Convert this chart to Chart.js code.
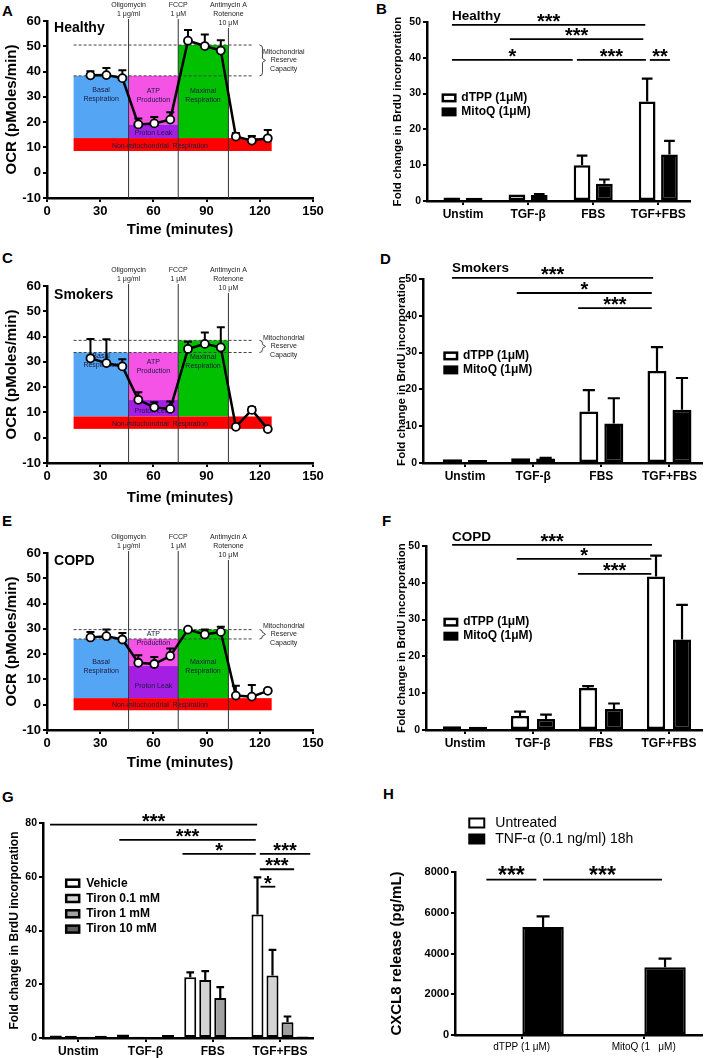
<!DOCTYPE html>
<html>
<head>
<meta charset="utf-8">
<title>Mitochondrial respiration and proliferation</title>
<script src="https://cdn.jsdelivr.net/npm/chart.js@4.4.1/dist/chart.umd.min.js"></script>
<style>
  html, body { margin: 0; padding: 0; background: #fff; }
  #fig { position: relative; width: 705px; height: 1058px; overflow: hidden; font-family: Arial, 'Liberation Sans', sans-serif; }
  #fig canvas { position: absolute; }
  .tag { position: absolute; font: bold 15px Arial, 'Liberation Sans', sans-serif; line-height: 1; }
</style>
</head>
<body>
<div id="fig">
  <div class="tag" style="left:2px;top:3px">A</div>
  <div class="tag" style="left:376px;top:1px">B</div>
  <div class="tag" style="left:2px;top:250px">C</div>
  <div class="tag" style="left:380px;top:251px">D</div>
  <div class="tag" style="left:2px;top:513px">E</div>
  <div class="tag" style="left:382px;top:513px">F</div>
  <div class="tag" style="left:2px;top:789px">G</div>
  <div class="tag" style="left:383px;top:786px">H</div>
</div>
<script>
// ---- OCR traces, mean + upper SEM (pMoles/min) ----
const ocrTimes = [24.5, 33.5, 42.5, 51.5, 60.5, 69.5, 79.5, 89, 98, 106.5, 115.5, 124.5];
const healthyOcr = [38.5, 38.6, 37.4, 19.1, 19.5, 21.0, 52.2, 50.1, 48.3, 14.3, 12.7, 13.6];
const healthySem = [1.6, 2.8, 3.1, 2.3, 2.5, 2.9, 4.2, 4.6, 4.1, 1.4, 1.8, 3.3];
const smokersOcr = [31.4, 29.5, 28.2, 15.0, 12.0, 11.4, 35.1, 37.1, 35.7, 4.3, 11.0, 3.4];
const smokersSem = [7.6, 9.4, 2.8, 3.0, 2.0, 2.9, 2.9, 4.5, 8.0, 0, 1.1, 0];
const copdOcr = [26.6, 27.1, 25.8, 16.6, 16.1, 19.3, 29.7, 27.8, 28.8, 3.6, 3.2, 5.5];
const copdSem = [2.2, 2.6, 2.6, 3.0, 2.8, 2.9, 0, 1.9, 2.0, 3.9, 4.6, 0];

// injections and assay window (minutes)
const injectTimes = [46, 74, 102.3];
const assayWindow = [15, 126.7];
const drugLabels = [['Oligomycin', '1 μg/ml'], ['FCCP', '1 μM'], ['Antimycin A', 'Rotenone', '10 μM']];
const regionNames = ['Basal\nRespiration', 'ATP\nProduction', 'Proton Leak', 'Maximal\nRespiration', 'Non-mitochondrial  Respiration'];

// levels: non-mito bottom, non-mito top, proton leak top, basal, maximal
const healthyLevels = [8.6, 13.7, 19.1, 38.3, 50.5];
const smokersLevels = [3.5, 8.4, 14.9, 33.7, 38.5];
const copdLevels = [-2.2, 2.6, 15.3, 26.0, 29.7];

// ---- BrdU fold change ----
const brduCats = ['Unstim', 'TGF-β', 'FBS', 'TGF+FBS'];
const healthyDtpp = [1.0, 1.8, 10.0, 27.8];
const healthyDtppSem = [0, 0, 2.7, 6.4];
const healthyMitoq = [0.9, 1.7, 4.8, 13.0];
const healthyMitoqSem = [0, 0.2, 1.2, 3.8];
const smokersDtpp = [1.0, 1.3, 14.0, 25.0];
const smokersDtppSem = [0, 0, 5.8, 6.5];
const smokersMitoq = [0.8, 1.2, 10.7, 14.5];
const smokersMitoqSem = [0, 0.2, 6.9, 8.6];
const copdDtpp = [1.0, 3.8, 11.4, 41.7];
const copdDtppSem = [0, 1.2, 0.5, 5.7];
const copdMitoq = [0.9, 3.0, 5.7, 24.6];
const copdMitoqSem = [0, 1.2, 1.5, 9.4];

const tironVehicle = [0.9, 1.3, 22.6, 46.0];
const tironVehicleSem = [0, 0, 1.8, 13.8];
const tiron01 = [0.8, 0.5, 21.6, 23.3];
const tiron01Sem = [0, 0, 3.3, 9.5];
const tiron1 = [0.5, 0.3, 14.9, 5.9];
const tiron1Sem = [0, 0, 4.0, 2.1];
const tiron10 = [0.8, 1.1, 0.3, 0.6];
const tiron10Sem = [0, 0, 0, 0];

// ---- CXCL8 release (pg/mL) ----
const cxclCats = ['dTPP (1 μM)', 'MitoQ (1   μM)'];
const cxclUntreated = [50, 20];
const cxclTnf = [5300, 3330];
const cxclTnfSem = [520, 420];

Chart.defaults.font.family = "Arial, 'Liberation Sans', sans-serif";
Chart.defaults.color = '#000';
Chart.defaults.animation = false;
Chart.defaults.responsive = false;
Chart.defaults.plugins.legend.display = false;
Chart.defaults.plugins.tooltip.enabled = false;

const fig = document.getElementById('fig');

function addCanvas(box) {
  const c = document.createElement('canvas');
  c.width = box[2];
  c.height = box[3];
  c.style.left = box[0] + 'px';
  c.style.top = box[1] + 'px';
  c.style.width = box[2] + 'px';
  c.style.height = box[3] + 'px';
  fig.appendChild(c);
  return c;
}

// box: [left, top, w, h] of canvas, plot: [left, top, right, bottom] on page
function frame(box, plot, yTitle, xTitle) {
  const axisLeft = yTitle[0] - yTitle[1] * 0.6;
  const yWidth = plot[0] - axisLeft;
  const xHeight = xTitle ? xTitle[0] + xTitle[1] * 0.6 - plot[3] : box[1] + box[3] - plot[3];
  return {
    padding: {
      left: axisLeft - box[0],
      top: plot[1] - box[1],
      right: box[0] + box[2] - plot[2],
      bottom: box[1] + box[3] - plot[3] - xHeight
    },
    yFit: s => { s.width = yWidth; },
    xFit: s => { s.height = xHeight; }
  };
}

function axis(fit, min, max, step, tickFont, title, titleSize) {
  return {
    type: 'linear',
    min: min,
    max: max,
    afterFit: fit,
    border: { display: true, color: '#000', width: 2.5 },
    grid: { display: true, drawOnChartArea: false, drawTicks: true, tickLength: 4, color: '#000', lineWidth: 2 },
    ticks: { stepSize: step, font: tickFont, padding: 2, color: '#000', maxRotation: 0, autoSkip: false, callback: v => String(v) },
    title: { display: !!title, text: title, padding: 0, color: '#000', font: { size: titleSize, weight: 'bold' } }
  };
}

function ocrDecor(means, sems, levels, cohort, spots) {
  return {
    id: 'ocrDecor',
    beforeDatasetsDraw(chart) {
      const ctx = chart.ctx;
      const X = v => chart.scales.x.getPixelForValue(v);
      const Y = v => chart.scales.y.getPixelForValue(v);
      const [t0, t1] = assayWindow;
      const [o, f, a] = injectTimes;
      const [nb, nt, lt, basal, maximal] = levels;
      const block = (x0, x1, y0, y1, col) => {
        ctx.fillStyle = col;
        ctx.fillRect(X(x0), Y(y1), X(x1) - X(x0), Y(y0) - Y(y1));
      };
      ctx.save();
      block(t0, o, nt, basal, '#55a5f5');
      block(o, f, lt, basal, '#f552e6');
      block(o, f, nt, lt, '#a41fe3');
      block(f, a, nt, maximal, '#00c000');
      block(t0, t1, nb, nt, '#ff0000');

      // reserve capacity guides
      ctx.strokeStyle = '#444';
      ctx.lineWidth = 1;
      ctx.setLineDash([3, 2]);
      [basal, maximal].forEach(v => {
        ctx.beginPath();
        ctx.moveTo(X(t0), Y(v));
        ctx.lineTo(X(116.5), Y(v));
        ctx.stroke();
      });
      ctx.setLineDash([]);
      const bx = X(121.5), yt = Y(maximal), yb = Y(basal), ym = (yt + yb) / 2;
      ctx.beginPath();
      ctx.moveTo(bx - 3, yt);
      ctx.quadraticCurveTo(bx, yt, bx, yt + 3);
      ctx.lineTo(bx, ym - 2);
      ctx.lineTo(bx + 3, ym);
      ctx.lineTo(bx, ym + 2);
      ctx.lineTo(bx, yb - 3);
      ctx.quadraticCurveTo(bx, yb, bx - 3, yb);
      ctx.stroke();
      ctx.fillStyle = '#222';
      ctx.font = '7px Arial';
      ctx.textAlign = 'center';
      ctx.textBaseline = 'middle';
      ['Mitochondrial', 'Reserve', 'Capacity'].forEach((s, k) => ctx.fillText(s, X(133.5), ym + (k - 1) * 8.5));

      // region names
      ctx.fillStyle = '#1a1a40';
      regionNames.forEach((name, i) => {
        const rows = name.split('\n');
        rows.forEach((s, k) => ctx.fillText(s, X(spots[i][0]), Y(spots[i][1]) + (k - (rows.length - 1) / 2) * 9));
      });

      // injections
      const top = Y(60);
      ctx.fillStyle = '#222';
      injectTimes.forEach((t, i) => {
        const rows = drugLabels[i];
        rows.forEach((s, k) => ctx.fillText(s, X(t), top - 16 + k * 9));
        ctx.strokeStyle = '#333';
        ctx.lineWidth = 1;
        ctx.beginPath();
        ctx.moveTo(X(t), top - 16 + (rows.length - 1) * 9 + 5);
        ctx.lineTo(X(t), Y(-10));
        ctx.stroke();
      });

      // upper error bars
      ctx.strokeStyle = '#000';
      ctx.lineWidth = 2;
      ocrTimes.forEach((t, i) => {
        if (!sems[i]) return;
        const px = X(t), y1 = Y(means[i] + sems[i]);
        ctx.beginPath();
        ctx.moveTo(px, Y(means[i]));
        ctx.lineTo(px, y1);
        ctx.moveTo(px - 4, y1);
        ctx.lineTo(px + 4, y1);
        ctx.stroke();
      });

      ctx.fillStyle = '#000';
      ctx.font = 'bold 14px Arial';
      ctx.textAlign = 'left';
      ctx.fillText(cohort[0], X(cohort[1]), Y(cohort[2]));
      ctx.restore();
    }
  };
}

function ocrPanel(box, plot, xTitleY, means, sems, levels, cohort, spots) {
  const fr = frame(box, plot, [12, 15], [xTitleY, 15]);
  new Chart(addCanvas(box), {
    type: 'line',
    data: {
      datasets: [{
        data: ocrTimes.map((t, i) => ({ x: t, y: means[i] })),
        borderColor: '#000',
        borderWidth: 2.5,
        pointRadius: 4,
        pointBorderWidth: 1.8,
        pointBackgroundColor: '#fff',
        pointBorderColor: '#000',
        tension: 0
      }]
    },
    options: {
      layout: { padding: fr.padding },
      scales: {
        x: axis(fr.xFit, 0, 150, 30, { size: 13, weight: 'bold' }, 'Time (minutes)', 15),
        y: axis(fr.yFit, -10, 60, 10, { size: 13, weight: 'bold' }, 'OCR (pMoles/min)', 15)
      }
    },
    plugins: [ocrDecor(means, sems, levels, cohort, spots)]
  });
}

function barDecor(cfg) {
  return {
    id: 'barDecor',
    afterDatasetsDraw(chart) {
      const ctx = chart.ctx;
      const X = v => chart.scales.x.getPixelForValue(v);
      const Y = v => chart.scales.y.getPixelForValue(v);
      ctx.save();
      ctx.strokeStyle = '#000';
      ctx.fillStyle = '#000';

      chart.data.datasets.forEach((ds, di) => {
        chart.getDatasetMeta(di).data.forEach((bar, i) => {
          const e = ds.sem[i];
          if (!e) return;
          const top = Y(ds.data[i].y + e);
          const half = Math.min(6.5, bar.width * 0.32);
          ctx.lineWidth = 2.2;
          ctx.beginPath();
          ctx.moveTo(bar.x, bar.y);
          ctx.lineTo(bar.x, top);
          ctx.moveTo(bar.x - half, top);
          ctx.lineTo(bar.x + half, top);
          ctx.stroke();
        });
      });

      ctx.lineWidth = 1.8;
      ctx.textAlign = 'center';
      ctx.textBaseline = 'alphabetic';
      ctx.font = 'bold ' + cfg.starSize + 'px Arial';
      cfg.brackets.forEach(([a, b, v, s]) => {
        const y = Y(v);
        ctx.beginPath();
        ctx.moveTo(X(a), y);
        ctx.lineTo(X(b), y);
        ctx.stroke();
        ctx.fillText(s, (X(a) + X(b)) / 2, y + cfg.starSize * 0.15);
      });

      if (cfg.cohort) {
        ctx.font = 'bold 13.5px Arial';
        ctx.textAlign = 'left';
        ctx.textBaseline = 'middle';
        ctx.fillText(cfg.cohort[0], X(cfg.cohort[1]), Y(cfg.cohort[2]));
      }

      const lg = cfg.legend;
      ctx.font = lg.font;
      ctx.textAlign = 'left';
      ctx.textBaseline = 'middle';
      cfg.series.forEach((s, k) => {
        const x0 = X(lg.at[0]), yc = Y(lg.at[1]) + k * lg.step;
        ctx.fillStyle = s.fill;
        ctx.fillRect(x0, yc - lg.box[1] / 2, lg.box[0], lg.box[1]);
        ctx.lineWidth = lg.line;
        ctx.strokeRect(x0, yc - lg.box[1] / 2, lg.box[0], lg.box[1]);
        ctx.fillStyle = '#000';
        ctx.fillText(s.name, x0 + lg.box[0] + lg.gap, yc);
      });
      ctx.restore();
    }
  };
}

function barPanel(box, plot, yTitleX, cfg) {
  const fr = frame(box, plot, [yTitleX, cfg.titleSize], null);
  const xs = axis(fr.xFit, cfg.xRange[0], cfg.xRange[1], 1, cfg.catFont, '', 0);
  xs.offset = false;
  xs.grid.offset = false;
  xs.ticks.includeBounds = false;
  xs.ticks.callback = v => cfg.cats[v];
  const ys = axis(fr.yFit, 0, cfg.yMax, cfg.yStep, cfg.tickFont, cfg.yTitle, cfg.titleSize);
  new Chart(addCanvas(box), {
    type: 'bar',
    data: {
      datasets: cfg.series.map(s => ({
        data: s.values.map((v, i) => ({ x: i, y: v })),
        sem: s.sem,
        backgroundColor: s.fill,
        borderColor: '#000',
        borderWidth: cfg.barBorder,
        borderSkipped: false,
        categoryPercentage: cfg.cp,
        barPercentage: cfg.bp
      }))
    },
    options: {
      layout: { padding: fr.padding },
      scales: { x: xs, y: ys }
    },
    plugins: [barDecor(cfg)]
  });
}

// ---- A, C, E ----
ocrPanel([0, 0, 350, 255], [47, 21, 313, 198], 230, healthyOcr, healthySem, healthyLevels,
  ['Healthy', 4, 57.2], [[30.5, 30.75], [60, 30.7], [60, 15.6], [88, 30.7], [63.7, 10.6]]);
ocrPanel([0, 262, 350, 255], [47, 286, 313, 463], 498, smokersOcr, smokersSem, smokersLevels,
  ['Smokers', 4, 56.4], [[30.5, 30.5], [60, 28], [60, 10.7], [88, 30.1], [63.7, 5.4]]);
ocrPanel([0, 527, 350, 258], [47, 553, 313, 730], 763, copdOcr, copdSem, copdLevels,
  ['COPD', 4, 56.8], [[30.5, 15], [60, 26.2], [60, 7.4], [88, 15], [63.7, -0.1]]);

// ---- B, D, F ----
const brduBase = {
  cats: brduCats, yMax: 50, yStep: 10, titleSize: 11.5,
  yTitle: 'Fold change in BrdU incorporation',
  tickFont: { size: 10.5, weight: 'bold' }, catFont: { size: 12, weight: 'bold' },
  barBorder: 2.5, starSize: 20
};
const brduLegend = { box: [12.5, 6.5], line: 2.5, gap: 6, step: 14, font: 'bold 12px Arial' };

barPanel([350, 0, 355, 232], [427, 22, 690, 201], 398, Object.assign({}, brduBase, {
  xRange: [-0.553, 3.487], cp: 0.685, bp: 0.75,
  series: [
    { name: 'dTPP (1μM)', values: healthyDtpp, sem: healthyDtppSem, fill: '#fff' },
    { name: 'MitoQ (1μM)', values: healthyMitoq, sem: healthyMitoqSem, fill: '#000' }
  ],
  brackets: [[-0.17, 2.8, 49.2, '***'], [0.72, 2.77, 45.2, '***'], [-0.17, 1.685, 39.4, '*'],
    [1.75, 2.81, 39.4, '***'], [2.87, 3.18, 39.4, '**']],
  cohort: ['Healthy', -0.17, 51.7],
  legend: Object.assign({ at: [-0.31, 28.8] }, brduLegend)
}));

barPanel([350, 262, 355, 232], [423, 279, 702, 463], 401.7, Object.assign({}, brduBase, {
  xRange: [-0.616, 3.477], cp: 0.733, bp: 0.76,
  series: [
    { name: 'dTPP (1μM)', values: smokersDtpp, sem: smokersDtppSem, fill: '#fff' },
    { name: 'MitoQ (1μM)', values: smokersMitoq, sem: smokersMitoqSem, fill: '#000' }
  ],
  brackets: [[-0.19, 2.76, 50.3, '***'], [0.76, 2.74, 46.2, '*'], [1.66, 2.74, 42.1, '***']],
  cohort: ['Smokers', -0.19, 53],
  legend: Object.assign({ at: [-0.3, 29.1] }, brduLegend)
}));

barPanel([350, 527, 355, 232], [426, 546, 702, 730], 401.7, Object.assign({}, brduBase, {
  xRange: [-0.574, 3.485], cp: 0.765, bp: 0.7,
  series: [
    { name: 'dTPP (1μM)', values: copdDtpp, sem: copdDtppSem, fill: '#fff' },
    { name: 'MitoQ (1μM)', values: copdMitoq, sem: copdMitoqSem, fill: '#000' }
  ],
  brackets: [[-0.19, 2.75, 50.3, '***'], [0.76, 2.74, 46.5, '*'], [1.66, 2.74, 42.4, '***']],
  cohort: ['COPD', -0.19, 52.4],
  legend: Object.assign({ at: [-0.3, 29.3] }, brduLegend)
}));

// ---- G ----
barPanel([0, 788, 350, 270], [43, 823, 313, 1038], 15, Object.assign({}, brduBase, {
  yMax: 80, yStep: 20, titleSize: 12,
  xRange: [-0.525, 3.491], cp: 0.893, bp: 0.8, barBorder: 2,
  series: [
    { name: 'Vehicle', values: tironVehicle, sem: tironVehicleSem, fill: '#fff' },
    { name: 'Tiron 0.1 mM', values: tiron01, sem: tiron01Sem, fill: '#d4d4d4' },
    { name: 'Tiron 1 mM', values: tiron1, sem: tiron1Sem, fill: '#a0a0a0' },
    { name: 'Tiron 10 mM', values: tiron10, sem: tiron10Sem, fill: '#606060' }
  ],
  brackets: [[-0.42, 2.66, 79.4, '***'], [0.61, 2.64, 73.7, '***'], [1.55, 2.64, 68.5, '*'],
    [2.70, 3.45, 68.5, '***'], [2.70, 3.21, 62.8, '***'], [2.71, 2.93, 56.3, '*']],
  cohort: null,
  legend: { at: [-0.18, 57.6], box: [13, 7], line: 2.5, gap: 7, step: 15.3, font: 'bold 12px Arial' }
}));

// ---- H ----
barPanel([350, 800, 355, 258], [455, 872, 702, 1035], 397, {
  cats: cxclCats, yMax: 8000, yStep: 2000, titleSize: 15,
  yTitle: 'CXCL8 release (pg/mL)',
  tickFont: { size: 11, weight: 'bold' }, catFont: { size: 10 },
  barBorder: 2, starSize: 23,
  xRange: [-0.547, 1.478], cp: 0.7, bp: 0.97,
  series: [
    { name: 'Untreated', values: cxclUntreated, sem: [0, 0], fill: '#fff' },
    { name: 'TNF-α (0.1 ng/ml) 18h', values: cxclTnf, sem: cxclTnfSem, fill: '#000' }
  ],
  brackets: [[-0.29, 0.12, 7630, '***'], [0.175, 1.15, 7630, '***']],
  cohort: null,
  legend: { at: [-0.43, 10405], box: [15, 9], line: 2, gap: 11, step: 16, font: '14px Arial' }
});
</script>
</body>
</html>
